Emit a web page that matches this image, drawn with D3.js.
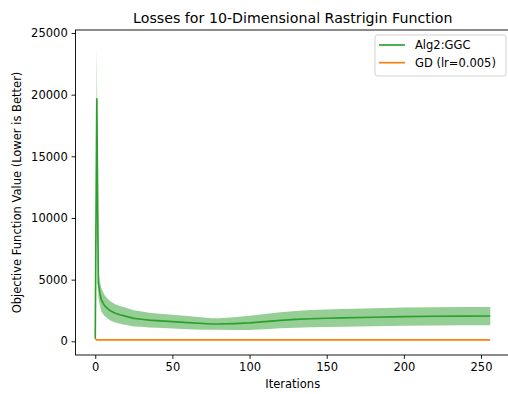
<!DOCTYPE html>
<html><head><meta charset="utf-8">
<script src="https://cdn.jsdelivr.net/npm/d3@7"></script>
<style>body{margin:0;background:#fff}svg{display:block}text{font-family:"DejaVu Sans",sans-serif}</style>
</head><body>
<script>
const ggcIters = [0,1,2,3,4,6,8,10,13,16,20,25,30,35,40,50,60,70,75,80,90,100,110,120,130,140,150,160,180,200,220,240,256];
const ggcMean  = [210,19700,4700,3900,3350,2900,2650,2450,2270,2150,2020,1860,1790,1720,1670,1590,1510,1440,1400,1400,1440,1490,1600,1700,1780,1830,1870,1900,1950,2000,2030,2040,2050];
const ggcStd   = [0,4200,1100,1000,950,850,800,780,740,720,700,650,620,600,580,560,540,500,460,470,520,580,620,650,680,700,710,720,730,740,740,740,740];
const gdIters  = [0,1,3,256];
const gdVals   = [210,120,110,110];
const xTicks = [0,50,100,150,200,250];
const yTicks = [0,5000,10000,15000,20000,25000];
const seriesNames = ["Alg2:GGC","GD (lr=0.005)"];
const colors = ["#2ca02c","#ff7f0e"];

const W=508,H=394;
const L=75.5,R=510,T=30,B=355;
const svg=d3.select("body").append("svg").attr("width",W).attr("height",H);
const x=d3.scaleLinear().domain([-12.8,268.8]).range([L,R]);
const y=d3.scaleLinear().domain([-1111,25243]).range([B,T]);

const ggc=ggcIters.map((it,i)=>({it,m:ggcMean[i],s:ggcStd[i]}));
const gd=gdIters.map((it,i)=>({it,v:gdVals[i]}));

svg.append("path").datum(ggc).attr("fill",colors[0]).attr("fill-opacity",0.5)
  .attr("d",d3.area().x(d=>x(d.it)).y0(d=>y(d.m-d.s)).y1(d=>y(d.m+d.s)));
svg.append("path").datum(ggc).attr("fill","none").attr("stroke",colors[0]).attr("stroke-width",1.67)
  .attr("d",d3.line().x(d=>x(d.it)).y(d=>y(d.m)));
svg.append("path").datum(gd).attr("fill","none").attr("stroke",colors[1]).attr("stroke-width",1.67)
  .attr("d",d3.line().x(d=>x(d.it)).y(d=>y(d.v)));

const fs=11.5;
const xa=svg.append("g").attr("transform",`translate(0,${B})`)
  .call(d3.axisBottom(x).tickValues(xTicks).tickSize(3.9).tickPadding(3.9));
const ya=svg.append("g").attr("transform",`translate(${L},0)`)
  .call(d3.axisLeft(y).tickValues(yTicks).tickFormat(d3.format("d")).tickSize(3.9).tickPadding(3.9));
[xa,ya].forEach(a=>{a.select(".domain").remove();a.selectAll("line").attr("stroke","#000").attr("stroke-width",0.9);
  a.selectAll("text").attr("font-size",fs).attr("fill","#000").attr("font-family","DejaVu Sans");});
svg.append("rect").attr("x",L).attr("y",T).attr("width",R-L).attr("height",B-T)
  .attr("fill","none").attr("stroke","#000").attr("stroke-width",0.9);

svg.append("text").attr("x",(L+R)/2).attr("y",22.5).attr("text-anchor","middle").attr("font-size",14.2).text("Losses for 10-Dimensional Rastrigin Function");
svg.append("text").attr("x",(L+R)/2).attr("y",388).attr("text-anchor","middle").attr("font-size",fs).text("Iterations");
svg.append("text").attr("transform",`translate(21,${(T+B)/2}) rotate(-90)`).attr("text-anchor","middle").attr("font-size",fs).text("Objective Function Value (Lower is Better)");

const lg=svg.append("g");
lg.append("rect").attr("x",375).attr("y",35).attr("width",131).attr("height",41).attr("rx",2.5)
  .attr("fill","#fff").attr("fill-opacity",0.8).attr("stroke","#ccc").attr("stroke-width",0.9);
seriesNames.forEach((n,i)=>{
  const cy=45+i*17.7;
  lg.append("line").attr("x1",379).attr("x2",405).attr("y1",cy).attr("y2",cy).attr("stroke",colors[i]).attr("stroke-width",1.67);
  lg.append("text").attr("x",415).attr("y",cy+4).attr("font-size",fs).text(n);
});
</script>
</body></html>
